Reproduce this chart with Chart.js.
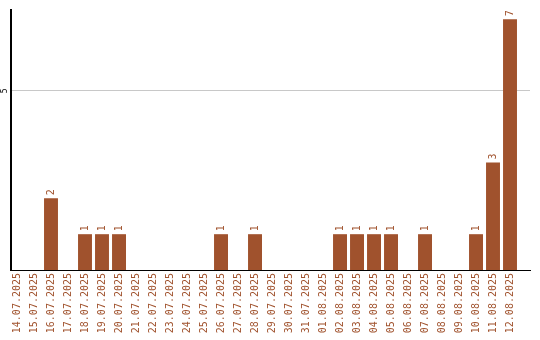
<!DOCTYPE html>
<html>
<head>
<meta charset="utf-8">
<script src="https://cdn.jsdelivr.net/npm/chart.js@4/dist/chart.umd.min.js"></script>
<style>
  html, body { margin: 0; padding: 0; background: #fff; }
  #wrap { width: 540px; height: 340px; }
</style>
</head>
<body>
<div id="wrap"><canvas id="c" width="540" height="340"></canvas></div>
<script>
// Daily counts, 14.07.2025 – 12.08.2025
const dates = [
  '14.07.2025','15.07.2025','16.07.2025','17.07.2025','18.07.2025','19.07.2025',
  '20.07.2025','21.07.2025','22.07.2025','23.07.2025','24.07.2025','25.07.2025',
  '26.07.2025','27.07.2025','28.07.2025','29.07.2025','30.07.2025','31.07.2025',
  '01.08.2025','02.08.2025','03.08.2025','04.08.2025','05.08.2025','06.08.2025',
  '07.08.2025','08.08.2025','09.08.2025','10.08.2025','11.08.2025','12.08.2025'
];
const counts = [
  0, 0, 2, 0, 1, 1,
  1, 0, 0, 0, 0, 0,
  1, 0, 1, 0, 0, 0,
  0, 1, 1, 1, 1, 0,
  1, 0, 0, 1, 3, 7
];
const yTicks = [5];

const BROWN = '#a0522d';
const MONO = '"DejaVu Sans Mono", "Liberation Mono", monospace';

// value labels above bars and the lone y tick label, both rotated
const labelsPlugin = {
  id: 'barValues',
  afterDatasetsDraw(chart) {
    const ctx = chart.ctx;
    const meta = chart.getDatasetMeta(0);
    ctx.save();
    ctx.fillStyle = BROWN;
    ctx.font = '10px ' + MONO;
    ctx.textAlign = 'left';
    ctx.textBaseline = 'middle';
    meta.data.forEach((bar, i) => {
      const v = counts[i];
      if (!v) return;
      ctx.save();
      ctx.translate(bar.x, bar.y - 3);
      ctx.rotate(-Math.PI / 2);
      ctx.fillText(String(v), 0, 0);
      ctx.restore();
    });
    const ys = chart.scales.y;
    ctx.fillStyle = '#000';
    ctx.font = '8px ' + MONO;
    ctx.textAlign = 'center';
    yTicks.forEach(t => {
      ctx.save();
      ctx.translate(5, ys.getPixelForValue(t));
      ctx.rotate(-Math.PI / 2);
      ctx.fillText(String(t), 0, 0);
      ctx.restore();
    });
    ctx.restore();
  }
};

new Chart(document.getElementById('c'), {
  type: 'bar',
  data: {
    datasets: [{
      data: counts.map((v, i) => ({ x: i, y: v })),
      backgroundColor: BROWN,
      borderWidth: 0,
      barPercentage: 0.82,
      categoryPercentage: 1
    }]
  },
  plugins: [labelsPlugin],
  options: {
    responsive: false,
    animation: false,
    events: [],
    layout: { padding: { top: 10, right: 10, left: 0, bottom: 0 } },
    plugins: { legend: { display: false }, tooltip: { enabled: false } },
    scales: {
      x: {
        type: 'linear',
        offset: false,
        min: -0.353,
        max: 30.176,
        afterBuildTicks(axis) { axis.ticks = dates.map((_, i) => ({ value: i })); },
        afterFit(axis) { axis.height = 70; },
        grid: { display: false, drawTicks: false, offset: false },
        border: { display: true, color: '#000', width: 1 },
        ticks: {
          autoSkip: false,
          minRotation: 90,
          maxRotation: 90,
          padding: 3,
          color: BROWN,
          font: { family: MONO, size: 10 },
          callback: (v) => dates[v] !== undefined ? dates[v] : ''
        }
      },
      y: {
        min: 0,
        max: 7.26,
        afterBuildTicks(axis) { axis.ticks = yTicks.map(v => ({ value: v })); },
        afterFit(axis) { axis.width = 11; },
        grid: { color: '#c8c8c8', lineWidth: 1, drawTicks: false },
        border: { display: true, color: '#000', width: 2 },
        ticks: { display: false }
      }
    }
  }
});
</script>
</body>
</html>
